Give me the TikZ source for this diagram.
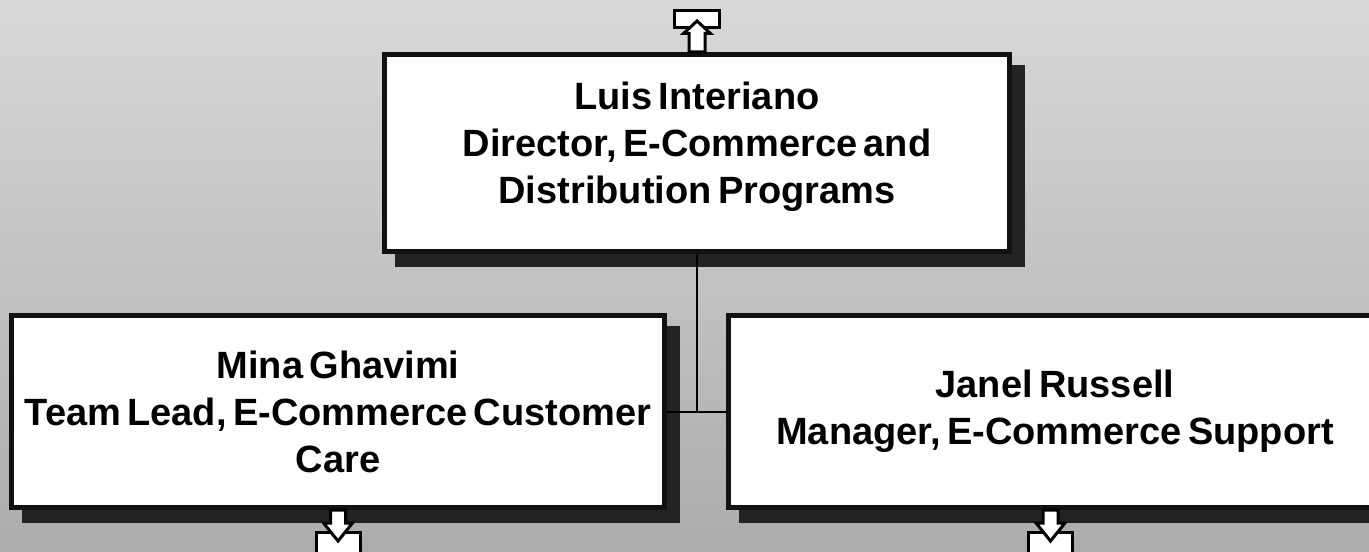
\documentclass[tikz,border=0pt]{standalone}
\usepackage{fontspec}
\setmainfont{Liberation Sans}[WordSpace=0.6]
\pgfdeclarelayer{background}
\pgfsetlayers{background,main}
\definecolor{bgtop}{RGB}{216,216,216}
\definecolor{bgbottom}{RGB}{172,172,172}
\definecolor{frame}{RGB}{17,17,17}
\definecolor{shade}{RGB}{35,35,35}
\tikzstyle{card}=[rectangle,draw=frame,fill=white,line width=2.5pt,minimum width=326.5pt,minimum height=96pt,inner sep=0pt]
\tikzstyle{card text}=[align=center,font=\fontsize{19}{23.5}\selectfont\bfseries]
\tikzstyle{card shadow}=[fill=shade]
\tikzstyle{link}=[draw,line width=1pt,-]
\tikzstyle{icon}=[draw=black,fill=white,line width=1.5pt,line join=miter]

\begin{document}
\begin{tikzpicture}[x=0.5pt,y=-0.5pt]
    \useasboundingbox (0,0) rectangle (1369,551);
    \node[card,minimum width=312.5pt,minimum height=98.5pt] (luis) at (697,153) {};
    \node[card text] (luistext) at (697,147) {Luis Interiano\\Director, E-Commerce and\\Distribution Programs};
    \node[card,card text] (mina) at (338,411.5) {Mina Ghavimi\\Team Lead, E-Commerce Customer\\Care};
    \node[card,card text] (janel) at (1055,411.5) {Janel Russell\\Manager, E-Commerce Support};

    \coordinate (joint) at (luis.south |- mina.east);
    \path[link] (luis.south) -- (joint);
    \path[link] (mina.east) -- (janel.west);

    % link icons
    \draw[icon] ([shift={(-22.5,-41.5)}]luis.north) rectangle ([shift={(22.5,-24.5)}]luis.north);
    \draw[icon] ([shift={(-8,0)}]luis.north) -- ++(0,-18.5) -- ++(-5.5,0) -- ++(13.5,-12.5)
        -- ++(13.5,12.5) -- ++(-5.5,0) -- ++(0,18.5) -- cycle;
    \foreach \who/\dx in {mina/0, janel/-4.5} {
        \draw[icon] ([shift={(\dx-22,22.5)}]\who.south) rectangle ([shift={(\dx+22,45)}]\who.south);
        \draw[icon] ([shift={(\dx-7.5,0)}]\who.south) -- ++(0,13) -- ++(-7,0) -- ++(14.5,18)
            -- ++(14.5,-18) -- ++(-7,0) -- ++(0,-13) -- cycle;
    }

    \begin{pgfonlayer}{background}
        \shade[top color=bgtop,bottom color=bgbottom] (0,0) rectangle (1369,551);
        \foreach \who in {luis,mina,janel}
            \fill[card shadow] ([shift={(13,13)}]\who.north west) rectangle ([shift={(13,13)}]\who.south east);
    \end{pgfonlayer}
\end{tikzpicture}
\end{document}
